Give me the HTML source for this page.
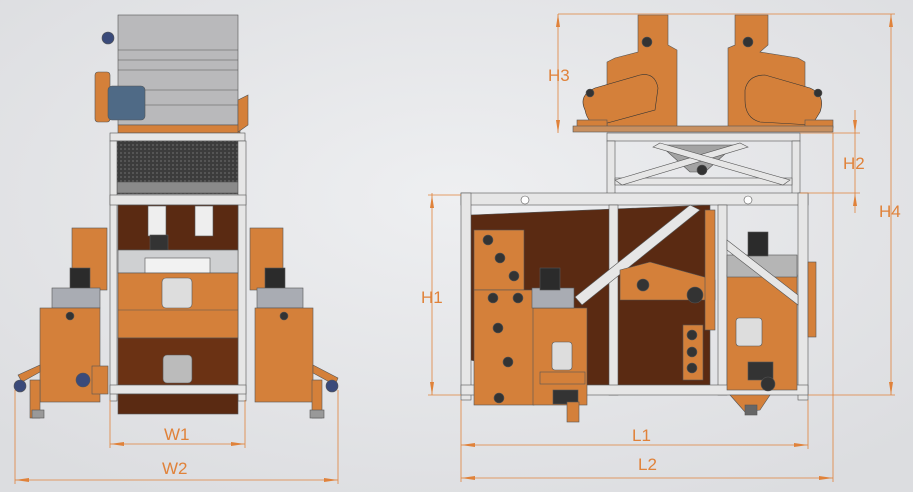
<!DOCTYPE html>
<html><head><meta charset="utf-8"><style>
html,body{margin:0;padding:0;width:913px;height:492px;overflow:hidden;background:#e5e6e8}
svg{display:block}
text{font-family:"Liberation Sans",sans-serif;fill:#e0823a;font-size:17px}
</style></head><body>
<svg width="913" height="492" viewBox="0 0 913 492" xmlns="http://www.w3.org/2000/svg">
<defs>
<radialGradient id="bg" cx="50%" cy="40%" r="70%"><stop offset="0" stop-color="#eeeff1"/><stop offset="1" stop-color="#dcdde0"/></radialGradient>
<pattern id="mesh" width="4" height="4" patternUnits="userSpaceOnUse"><rect width="4" height="4" fill="#3c3c3c"/><rect width="2" height="2" fill="#555"/></pattern>
</defs>
<rect width="913" height="492" fill="url(#bg)"/>

<!-- ===== LEFT VIEW ===== -->
<g stroke="#555" stroke-width="0.6">
<rect x="72" y="228" width="35" height="62" fill="#d4803a"/>
<rect x="70" y="268" width="20" height="22" fill="#2b2b2b"/>
<rect x="52" y="288" width="48" height="20" fill="#a9acb3"/>
<rect x="40" y="308" width="60" height="94" fill="#d4803a"/>
<circle cx="70" cy="316" r="4" fill="#333"/>
<rect x="92" y="366" width="16" height="28" fill="#d4803a"/>
<polygon points="18,375 40,365 40,372 22,382" fill="#d4803a"/>
<rect x="30" y="380" width="10" height="38" fill="#d4803a"/>
<rect x="32" y="410" width="12" height="8" fill="#999"/>
<circle cx="20" cy="386" r="6" fill="#3a4a7a"/>
<circle cx="83" cy="380" r="7" fill="#3a4a7a"/>
<rect x="250" y="228" width="33" height="62" fill="#d4803a"/>
<rect x="265" y="268" width="20" height="22" fill="#2b2b2b"/>
<rect x="257" y="288" width="46" height="20" fill="#a9acb3"/>
<rect x="255" y="308" width="58" height="94" fill="#d4803a"/>
<circle cx="284" cy="316" r="4" fill="#333"/>
<polygon points="313,365 338,378 335,385 313,373" fill="#d4803a"/>
<rect x="312" y="380" width="10" height="38" fill="#d4803a"/>
<rect x="310" y="410" width="14" height="8" fill="#999"/>
<circle cx="332" cy="386" r="6" fill="#3a4a7a"/>
<rect x="118" y="15" width="120" height="110" fill="#b9b9bb"/>
<line x1="118" y1="50" x2="238" y2="50"/><line x1="118" y1="60" x2="238" y2="60"/><line x1="118" y1="70" x2="238" y2="70"/>
<line x1="118" y1="90" x2="238" y2="90"/><line x1="118" y1="105" x2="238" y2="105"/>
<rect x="118" y="125" width="122" height="8" fill="#d4803a"/>
<polygon points="238,100 248,95 248,125 238,132" fill="#d4803a"/>
<rect x="95" y="72" width="15" height="50" rx="3" fill="#d4803a"/>
<rect x="108" y="86" width="37" height="34" rx="4" fill="#4f6a86"/>
<circle cx="108" cy="38" r="6" fill="#3a4a7a"/>
<rect x="110" y="133" width="135" height="8" fill="#e6e6e6"/>
<rect x="117" y="141" width="121" height="53" fill="url(#mesh)"/>
<rect x="117" y="182" width="121" height="11" fill="#8a8a8a"/>
<rect x="110" y="141" width="7" height="260" fill="#e6e6e6"/>
<rect x="238" y="141" width="8" height="260" fill="#e6e6e6"/>
<rect x="110" y="195" width="136" height="10" fill="#e6e6e6"/>
<rect x="118" y="205" width="120" height="45" fill="#5a2a12"/>
<rect x="148" y="206" width="18" height="30" fill="#eee"/>
<rect x="195" y="206" width="18" height="30" fill="#eee"/>
<rect x="150" y="235" width="18" height="22" fill="#333"/>
<rect x="118" y="250" width="120" height="23" fill="#cfd0d2"/>
<rect x="145" y="258" width="65" height="15" fill="#f2f2f2"/>
<rect x="118" y="273" width="120" height="65" fill="#d4803a"/>
<line x1="118" y1="310" x2="238" y2="310"/>
<rect x="162" y="278" width="30" height="30" rx="4" fill="#ddd"/>
<rect x="118" y="338" width="120" height="47" fill="#6b3214"/>
<rect x="163" y="355" width="29" height="28" rx="4" fill="#bbb"/>
<rect x="110" y="385" width="136" height="9" fill="#e6e6e6"/>
<rect x="118" y="394" width="120" height="20" fill="#5a2a12"/>
</g>
<g stroke="#e0823a" stroke-width="0.8" fill="none">
<line x1="110" y1="400" x2="110" y2="448"/><line x1="245" y1="400" x2="245" y2="448"/>
<line x1="110" y1="444" x2="245" y2="444"/>
<line x1="15" y1="390" x2="15" y2="484"/><line x1="338" y1="390" x2="338" y2="484"/>
<line x1="15" y1="480" x2="338" y2="480"/>
</g>
<g fill="#e0823a">
<polygon points="110,444 124,442 124,446"/><polygon points="245,444 231,442 231,446"/>
<polygon points="15,480 29,478 29,482"/><polygon points="338,480 324,478 324,482"/>
</g>
<text x="164" y="440">W1</text>
<text x="162" y="474">W2</text>

<!-- ===== RIGHT VIEW ===== -->
<g stroke="#555" stroke-width="0.6">
<!-- left separator -->
<polygon points="638,15 668,15 668,45 677,50 677,128 607,128 607,62 615,58 638,52" fill="#d4803a"/>
<path d="M585,110 Q578,95 595,88 L640,75 Q655,72 658,88 L655,110 L600,125 Q588,125 585,110 Z" fill="#d4803a" stroke="#333"/>
<rect x="577" y="120" width="30" height="8" fill="#d4803a"/>
<circle cx="647" cy="42" r="5" fill="#333"/>
<circle cx="590" cy="93" r="4" fill="#333"/>
<!-- right separator -->
<polygon points="735,15 768,15 768,45 760,52 798,58 805,62 805,128 728,128 728,48 735,45" fill="#d4803a"/>
<path d="M745,90 Q748,75 765,75 L810,88 Q826,95 820,112 L812,125 L760,122 Q745,118 745,100 Z" fill="#d4803a" stroke="#333"/>
<rect x="805" y="120" width="28" height="8" fill="#d4803a"/>
<circle cx="748" cy="42" r="5" fill="#333"/>
<circle cx="818" cy="93" r="4" fill="#333"/>
<rect x="573" y="126" width="260" height="6" fill="#c89060"/>
<!-- upper frame -->
<rect x="607" y="133" width="193" height="8" fill="#e6e6e6"/>
<rect x="607" y="141" width="8" height="54" fill="#e6e6e6"/>
<rect x="792" y="141" width="8" height="54" fill="#e6e6e6"/>
<rect x="615" y="178" width="177" height="7" fill="#e6e6e6"/>
<polygon points="660,145 735,145 705,172 690,172" fill="#a3a3a3"/>
<circle cx="702" cy="170" r="5" fill="#333"/>
<polygon points="615,180 740,143 748,147 622,185" fill="#e6e6e6"/>
<polygon points="660,143 790,180 783,185 653,147" fill="#e6e6e6"/>
<!-- brown body -->
<polygon points="470,215 710,205 710,385 580,385 560,378 470,360" fill="#5a2a12"/>
<!-- main frame -->
<rect x="461" y="193" width="347" height="12" fill="#e6e6e6"/>
<rect x="461" y="193" width="10" height="207" fill="#e6e6e6"/>
<rect x="798" y="193" width="10" height="207" fill="#e6e6e6"/>
<rect x="609" y="205" width="9" height="190" fill="#e6e6e6"/>
<rect x="718" y="205" width="9" height="190" fill="#e6e6e6"/>
<rect x="461" y="385" width="347" height="10" fill="#e6e6e6"/>
<polygon points="575,297 690,205 700,210 582,305" fill="#e6e6e6"/>
<circle cx="525" cy="200" r="4" fill="#fff"/><circle cx="748" cy="200" r="4" fill="#fff"/>
<rect x="474" y="230" width="50" height="60" fill="#d4803a"/>
<circle cx="488" cy="240" r="5" fill="#333"/><circle cx="500" cy="258" r="5" fill="#333"/><circle cx="514" cy="276" r="5" fill="#333"/>
<rect x="474" y="290" width="60" height="115" fill="#d4803a"/>
<circle cx="493" cy="298" r="5" fill="#333"/><circle cx="518" cy="298" r="5" fill="#333"/>
<circle cx="498" cy="328" r="5" fill="#333"/><circle cx="508" cy="362" r="5" fill="#333"/><circle cx="499" cy="398" r="5" fill="#333"/>
<rect x="533" y="308" width="54" height="97" fill="#d4803a"/>
<rect x="532" y="288" width="42" height="20" fill="#a9acb3"/>
<rect x="540" y="268" width="20" height="22" fill="#2b2b2b"/>
<rect x="552" y="342" width="20" height="28" rx="3" fill="#ddd"/>
<rect x="540" y="372" width="45" height="12" fill="#d4803a"/>
<rect x="553" y="390" width="25" height="14" fill="#333"/>
<rect x="567" y="402" width="12" height="20" fill="#d4803a"/>
<polygon points="620,270 650,262 715,280 715,300 620,300" fill="#d4803a"/>
<circle cx="643" cy="285" r="6" fill="#333"/>
<circle cx="695" cy="295" r="8" fill="#333"/>
<rect x="705" y="210" width="10" height="120" fill="#d4803a"/>
<rect x="683" y="325" width="20" height="55" fill="#d4803a"/>
<circle cx="692" cy="335" r="5" fill="#333"/><circle cx="692" cy="352" r="5" fill="#333"/><circle cx="692" cy="368" r="5" fill="#333"/>
<rect x="727" y="275" width="70" height="115" fill="#d4803a"/>
<rect x="727" y="255" width="70" height="22" fill="#b5b5b5"/>
<polygon points="727,240 798,295 798,305 727,250" fill="#e6e6e6"/>
<rect x="748" y="232" width="20" height="24" fill="#2b2b2b"/>
<rect x="736" y="318" width="26" height="28" rx="3" fill="#ddd"/>
<rect x="808" y="262" width="8" height="75" fill="#d4803a"/>
<rect x="748" y="362" width="25" height="18" fill="#333"/>
<circle cx="768" cy="384" r="7" fill="#333"/>
<polygon points="730,395 770,395 760,410 745,412" fill="#d4803a"/>
<rect x="745" y="405" width="12" height="10" fill="#666"/>
</g>
<g stroke="#e0823a" stroke-width="0.8" fill="none">
<line x1="558" y1="14" x2="895" y2="14"/>
<line x1="558" y1="14" x2="558" y2="133"/>
<line x1="800" y1="133" x2="860" y2="133"/>
<line x1="855" y1="110" x2="855" y2="213"/>
<line x1="800" y1="193" x2="860" y2="193"/>
<line x1="891" y1="14" x2="891" y2="395"/>
<line x1="808" y1="395" x2="895" y2="395"/>
<line x1="432" y1="193" x2="432" y2="395"/>
<line x1="428" y1="195" x2="461" y2="195"/><line x1="428" y1="395" x2="461" y2="395"/>
<line x1="461" y1="400" x2="461" y2="482"/>
<line x1="808" y1="400" x2="808" y2="449"/>
<line x1="833" y1="133" x2="833" y2="482"/>
<line x1="461" y1="445" x2="808" y2="445"/>
<line x1="461" y1="478" x2="833" y2="478"/>
</g>
<g fill="#e0823a">
<polygon points="558,14 556,27 560,27"/><polygon points="558,133 556,120 560,120"/>
<polygon points="891,14 889,27 893,27"/><polygon points="891,395 889,382 893,382"/>
<polygon points="855,133 853,120 857,120"/><polygon points="855,193 853,206 857,206"/>
<polygon points="432,195 430,208 434,208"/><polygon points="432,395 430,382 434,382"/>
<polygon points="461,445 475,443 475,447"/><polygon points="808,445 794,443 794,447"/>
<polygon points="461,478 475,476 475,480"/><polygon points="833,478 819,476 819,480"/>
</g>
<text x="548" y="81">H3</text>
<text x="843" y="169">H2</text>
<text x="879" y="217">H4</text>
<text x="421" y="303">H1</text>
<text x="632" y="441">L1</text>
<text x="638" y="470">L2</text>
</svg>
</body></html>
